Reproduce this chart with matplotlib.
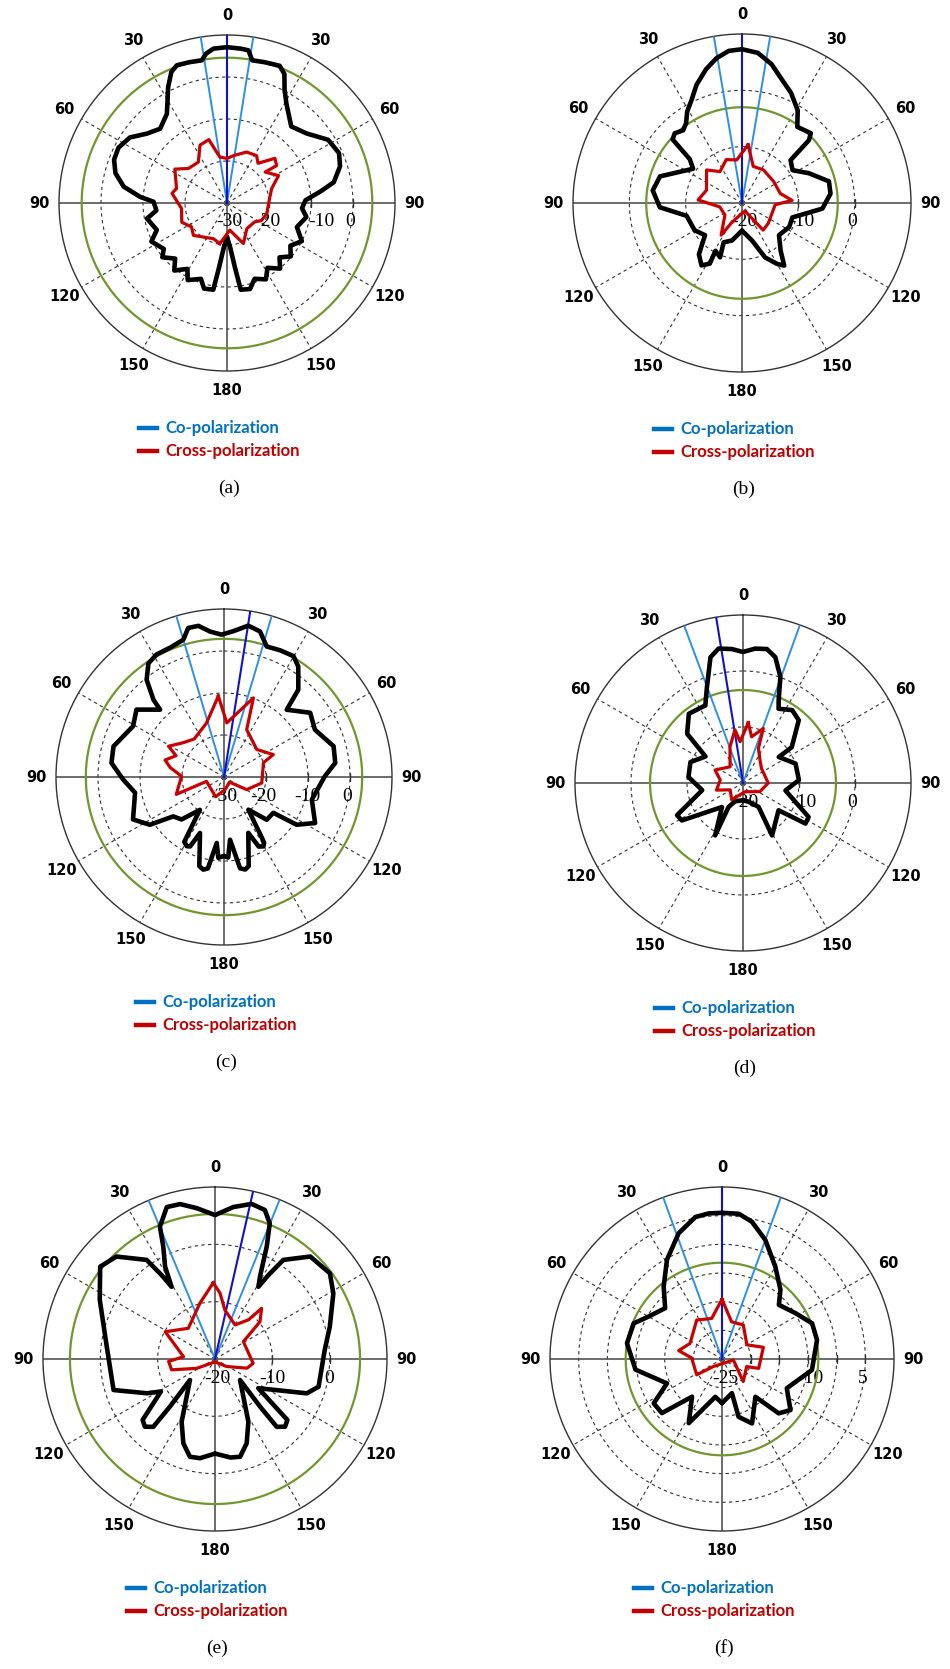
import numpy as np
import matplotlib.pyplot as plt
from matplotlib.lines import Line2D

W, H = 950, 1669

# ---------------- data: level (dB) vs angle (deg, clockwise from top), in drawing order ----------------
# (a)
a_co_ang = [-180,-176,-173,-171,-165,-161,-153,-149,-142,-137,-130,-126,-117,-111,-101,-96,-89,-86,-81,-75,
            -69,-63,-56,-49,-42,-34,-30,-27,-23,-20,-15,-10,-8,-5,0,5,8,10,15,21,
            24,27,31,40,49,58,66,72,79,83,88,94,100,109,117,124,130,136,141,148,
            153,160,165,171,173,176,180]
a_co_db = [-21.9,-19.5,-14.6,-9.1,-8.9,-10.9,-9.4,-11.7,-9.6,-11.9,-9.9,-11.4,-9.8,-12.1,-10.6,-13.1,-12.5,-9.3,-5.1,-2.5,
           -1.2,-1.0,-2.1,-4.8,-6.2,-4.4,-1.7,0.9,3.9,4.9,4.7,4.5,5.9,6.9,7.1,6.9,6.7,4.5,4.7,5.0,
           3.6,0.2,-2.5,-6.2,-4.8,-1.6,-0.8,-1.7,-4.1,-7.6,-11.3,-12.1,-10.8,-12.4,-10.0,-11.8,-10.2,-12.0,-9.9,-11.8,
           -9.6,-10.8,-8.8,-9.1,-14.6,-19.5,-21.9]
a_cx_ang = [-170,-159,-134,-124,-113,-97,-80,-74,-57,-48,-35,-25,-16,-9,0,8,21,32,38,47,53,51,62,72,82,105,117,124,142,158,174]
a_cx_db = [-20.2,-20.9,-18.9,-19.8,-18.3,-19.1,-16.7,-17.5,-15.2,-17.7,-18.1,-14.8,-14.3,-18.9,-19.4,-18.6,-17,-16.7,-18,-14.4,
           -15.2,-18.3,-16.1,-18.8,-19.7,-20.2,-20.8,-22,-22.3,-19.6,-23.5]

# (b)
b_co_ang = [-180,-165,-155,-158,-151,-152,-147,-140,-131,-120,-103,-93,-82,-72,-55,-50,-47.5,-44,-39,-35,
            -31,-26,-21,-15,-10,-5,0,6,12,18,24,31,36,44.6,46.8,48.6,57,66,76,84,
            94,106,117,131,141,146,150,157,165,180]
b_co_db = [-15.1,-13.1,-12.3,-9.6,-10.3,-7.8,-6.8,-8.1,-11.3,-10.3,-9.9,-5.4,-4.0,-4.7,-9.4,-7.9,-3.3,-2.8,-3.4,-2.7,
           -1.1,0.4,2.5,4.6,6.1,7.1,7.3,6.8,5.2,3.0,1.4,-0.8,-3.3,-2.6,-3.7,-8.5,-9.3,-7.0,-4.1,-4.2,
           -5.7,-10.7,-10.6,-11.3,-9.1,-6.6,-7.5,-9.5,-13.1,-15.1]
b_cx_ang = [6,17,33,56,76,87,93,128,142,146,160,-170,-152,-147,-125,-100,-86,-70,-47,-35,-20,-7]
b_cx_db = [-9.6,-13.2,-13.0,-13.2,-13.0,-11.1,-14.1,-14.1,-13.9,-16.4,-18.5,-17.8,-16.0,-13.2,-16.3,-16.0,-12.2,-13.3,-11.4,-13.2,-11.8,-12.3]

# (c)
c_co_ang = [-180,-176,-173.7,-170,-167.4,-164.5,-156.8,-154,-151.7,-148.5,-143.7,-135,-127.8,-122.8,-115,-100,-91.5,-82.9,-74.5,-60.8,
            -52.4,-43.5,-42.4,-38.5,-33.6,-28.8,-22,-16.5,-13.5,-9.6,-5.5,-1,3.7,9.1,13.9,18.1,24,29.9,33.9,40.4,
            43,53.3,62.5,74.3,82.8,89.6,104.5,116.8,123.3,126,135,143.3,148.5,150.4,153.5,156.5,164.5,167,170,174.5,
            177,180]
c_co_db = [-11.2,-10.7,-14.2,-7.9,-7.4,-8.0,-15.5,-11.6,-11.3,-11.9,-20.3,-15.7,-14.7,-9.0,-6.1,-8.5,-6.0,-3.0,-2.7,-5.2,
           -3.7,-7.9,-5.1,-0.4,2.5,3.3,3.4,4.1,6.5,6.5,4.8,3.9,4.8,6.5,5.7,2.7,3.0,3.2,1.7,-2.7,
           -8.1,-4.4,-5.6,-2.9,-3.3,-6.0,-8.4,-5.7,-9.3,-15.5,-15.6,-20.3,-11.7,-11.0,-11.5,-15.5,-8.0,-7.4,-7.9,-15.0,
           -10.8,-11.2]
c_cx_ang = [-4,3,20.4,25.6,50,65.6,70,99,119,133,175,-157,-104,-110,-89,-80,-74,-66,-61,-50,-38,-18]
c_cx_db = [-10.7,-17.1,-9.9,-17.5,-19.8,-17.1,-20,-20.9,-23.8,-28.2,-27,-24.9,-25.7,-17.9,-19.9,-17,-15.4,-17.5,-14.9,-17.3,-18.5,-16.5]

# (d)
d_co_ang = [-180,-157,-149,-152,-138.8,-121.5,-116,-100,-83.7,-68.3,-54.7,-48.6,-38,-25.9,-20.6,-14.5,-10.3,-4.7,0,5.2,
            10.1,14.4,19.4,23.3,25.6,34,41.6,53.7,54,69.7,87,100,117.4,123,127.5,151,146.9,163,180]
d_co_db = [-16.9,-16.5,-15.0,-9.4,-14.3,-7.2,-6.9,-12.6,-10.2,-9.9,-11.8,-6.7,-4.3,-4.6,-1.7,3.2,4.4,4.0,3.4,4.1,
           4.3,3.2,0.1,-3.9,-5.3,-4.3,-5.0,-9.2,-12.1,-10,-10,-12.3,-6.8,-6.7,-12,-9.3,-14.9,-16.5,-16.9]
d_cx_ang = [5,10.6,20.4,23.9,36.5,51.8,90,117,167,-146,-118,-105,-82.6,-65,-38.5,-19.7,-8.6,-4]
d_cx_db = [-9.2,-11.6,-9.6,-13.2,-14.9,-15.8,-15.5,-16.6,-18.4,-16.4,-17.4,-15.1,-15.9,-14.5,-16.3,-13.1,-10.4,-12.6]

# (e)
e_co_ang = [-180,-171.4,-165.6,-159.4,-152,-130,-136.6,-137.7,-134,-130.1,-121,-116.7,-107,-83.5,-62.8,-51.2,-43.9,-34.6,-32.5,-31,
            -28.4,-24.7,-22.6,-17.6,-12.7,-6.9,0,6.9,13.3,18.5,22,24.7,28.5,31,32.5,34.6,42.9,53.3,61,74.3,
            85.3,105,110.5,124,130.1,134,137.7,136.6,130,152,159.4,165.6,171,180]
e_co_db = [-3.5,-2.5,-2.4,-4.3,-7.6,-14.3,-8.5,-4.0,-3.0,-3.5,-9.0,-6.7,-1.5,-1.0,2.6,5.7,4.8,1.0,-2.6,-5.3,
           -1.7,1.6,5.0,7.8,7.7,6.5,5.1,6.7,7.8,7.4,5.5,1.6,-3.5,-5.3,-2.6,1.0,4.4,5.0,3.6,0.8,
           -0.8,-1.3,-2.9,-10.9,-3.5,-3.0,-4.0,-8.5,-14.3,-7.6,-4.3,-2.4,-2.6,-3.5]
e_cx_ang = [-1.3,4.4,11.5,30.5,40.5,42.6,50.3,58.5,96.5,106,123,180,-117,-104,-93,-85.8,-61.3,-41,-15]
e_cx_db = [-6.7,-8.5,-11.3,-13.1,-11.0,-8.0,-9.8,-14.2,-13.3,-14.2,-17.6,-19.5,-16.4,-12.2,-11.9,-14.5,-10.1,-12.9,-9.9]

# (f)
f_co_ang = [-180,-170,-152.6,-141.5,-132,-123,-113.9,-97,-80.6,-68,-60,-48.2,-38.9,-29,-19,-10.6,-5.2,0,6.6,12.3,
            20,30,40.2,46.4,58,68.4,78.7,97,114.3,126.7,133.8,138.5,155,164,163.8,180]
f_co_db = [-17.3,-18.3,-12.4,-16.6,-10.9,-10.8,-14.5,-9.8,-8.2,-8.4,-10.2,-11.7,-8.8,-5.2,-1.8,0.2,0.5,0.5,0.5,-0.5,
           -2.9,-6.4,-9.2,-11.3,-9.9,-8.1,-8.1,-9.2,-12.6,-10.1,-11.3,-16.2,-12.6,-14.5,-18.8,-17.3]
f_cx_ang = [0,14.5,32,60.4,74.2,104.4,107,136.7,95,-131,-122,-88,-79,-64,-33,-14.3]
f_cx_db = [-14.6,-18.3,-18,-20,-17.5,-18.4,-20.5,-19.6,-23,-23,-19.8,-19.7,-17.3,-18.8,-16.9,-17.7]

# panel setup: centre (px), radius (px), r range, ring values, green ring, beam lines
panels = [
    dict(tag='(a)', cx=227, cy=203, R=168, rmin=-30, rmax=10, rings=[-20, -10, 0], green=4.6,
         main=0, hp=(-9, 9), co=(a_co_ang, a_co_db), cx_=(a_cx_ang, a_cx_db),
         rlab=[('-30', 2), ('-20', 40), ('-10', 94), ('0', 123)]),
    dict(tag='(b)', cx=742, cy=203, R=169, rmin=-20, rmax=10, rings=[-10, 0], green=-3.0,
         main=0, hp=(-9.6, 9.6), co=(b_co_ang, b_co_db), cx_=(b_cx_ang, b_cx_db),
         rlab=[('-20', 2), ('-10', 59), ('0', 110)]),
    dict(tag='(c)', cx=224, cy=777, R=168, rmin=-30, rmax=10, rings=[-20, -10, 0], green=2.9,
         main=9, hp=(-16.5, 16.5), co=(c_co_ang, c_co_db), cx_=(c_cx_ang, c_cx_db),
         rlab=[('-30', 0), ('-20', 39), ('-10', 83), ('0', 123)]),
    dict(tag='(d)', cx=743, cy=783, R=168, rmin=-20, rmax=10, rings=[-10, 0], green=-3.4,
         main=-9.2, hp=(-20.5, 19.8), co=(d_co_ang, d_co_db), cx_=(d_cx_ang, d_cx_db),
         rlab=[('-20', 2), ('-10', 60), ('0', 109)]),
    dict(tag='(e)', cx=215, cy=1359, R=172, rmin=-20, rmax=10, rings=[-10, 0], green=5.3,
         main=12.8, hp=(-22.7, 22.1), co=(e_co_ang, e_co_db), cx_=(e_cx_ang, e_cx_db),
         rlab=[('-20', 2), ('-10', 57), ('0', 114)]),
    dict(tag='(f)', cx=722, cy=1359, R=172, rmin=-25, rmax=5, rings=[-20, -15, -10, -5, 0], green=-8.2,
         main=0, hp=(-20, 20), co=(f_co_ang, f_co_db), cx_=(f_cx_ang, f_cx_db),
         rlab=[('-25', 3), ('-10', 88), ('5', 141)]),
]

fig = plt.figure(figsize=(W / 100, H / 100), dpi=100)
th = np.linspace(0, 2 * np.pi, 400)

for p in panels:
    cx, cy, R = p['cx'], p['cy'], p['R']
    ax = fig.add_axes([(cx - R) / W, 1 - (cy + R) / H, 2 * R / W, 2 * R / H], projection='polar')
    ax.set_theta_zero_location('N')
    ax.set_theta_direction(-1)
    ax.set_ylim(p['rmin'], p['rmax'])
    ax.grid(False)
    ax.set_xticks([])
    ax.set_yticks([])
    ax.spines['polar'].set_color('#333333')
    ax.spines['polar'].set_linewidth(1.0)
    ax.patch.set_alpha(0)

    # dashed rings and spokes
    for rv in p['rings']:
        ax.plot(th, np.full_like(th, rv), ls=(0, (3, 3)), color='#333333', lw=0.8, zorder=1)
    for a in [30, 60, 120, 150, 210, 240, 300, 330]:
        ax.plot([np.deg2rad(a)] * 2, [p['rmin'], p['rmax']], ls=(0, (3, 3)), color='#333333', lw=0.8, zorder=1)
    for a in [0, 90, 180, 270]:
        ax.plot([np.deg2rad(a)] * 2, [p['rmin'], p['rmax']], color='#444444', lw=1.1, zorder=1)
    for rv in p['rings']:
        ax.plot(np.pi / 2, rv, marker='|', ms=6, color='#333333', zorder=1)

    # radial labels
    for txt, off in p['rlab']:
        ax.text((cx + off) / W, 1 - (cy + 19) / H, txt, transform=fig.transFigure,
                ha='center', va='center', fontsize=14, family='Liberation Serif', zorder=1)

    # green reference ring
    ax.plot(th, np.full_like(th, p['green']), color='#70972e', lw=1.6, zorder=2)

    # beam lines
    for a in p['hp']:
        ax.plot([np.deg2rad(a)] * 2, [p['rmin'], p['rmax']], color='#2e8fe6', lw=1.4, zorder=3)
    ax.plot([np.deg2rad(p['main'])] * 2, [p['rmin'], p['rmax']], color='#1010d0', lw=1.5, zorder=3)

    # patterns (angles unwrapped so segments follow the shortest way round)
    ang, db = p['co']
    t = np.unwrap(np.deg2rad(ang))
    ax.plot(t, db, color='black', lw=3.3, zorder=4, solid_joinstyle='round', solid_capstyle='round')
    ang, db = p['cx_']
    t = np.unwrap(np.deg2rad(list(ang) + [ang[0]]))
    ax.plot(t, list(db) + [db[0]], color='#c80000', lw=2.3, zorder=5, solid_joinstyle='round')

    # angle labels
    rl = p['rmax'] + 0.115 * (p['rmax'] - p['rmin'])
    for a, lab in zip(range(0, 360, 30), ['0', '30', '60', '90', '120', '150', '180', '150', '120', '90', '60', '30']):
        ax.text(np.deg2rad(a), rl, lab, ha='center', va='center', fontsize=10.5,
                fontweight='bold', family='DejaVu Sans')

    # legend and caption
    y1 = cy + R + 57
    y2 = y1 + 23
    lx = cx - 88
    fig.add_artist(Line2D([(lx) / W, (lx + 18) / W], [1 - y1 / H] * 2, color='#0070c0', lw=3.2))
    fig.add_artist(Line2D([(lx) / W, (lx + 18) / W], [1 - y2 / H] * 2, color='#c00000', lw=3.2))
    fig.text((lx + 26) / W, 1 - y1 / H, 'Co-polarization', color='#0070c0', fontsize=12,
             fontweight='bold', family='Lato', va='center')
    fig.text((lx + 26) / W, 1 - y2 / H, 'Cross-polarization', color='#c00000', fontsize=12,
             fontweight='bold', family='Lato', va='center')
    fig.text((cx + 2) / W, 1 - (cy + R + 117) / H, p['tag'], fontsize=14,
             family='Liberation Serif', ha='center', va='center')

fig.savefig('out.png', dpi=100, facecolor='white')
